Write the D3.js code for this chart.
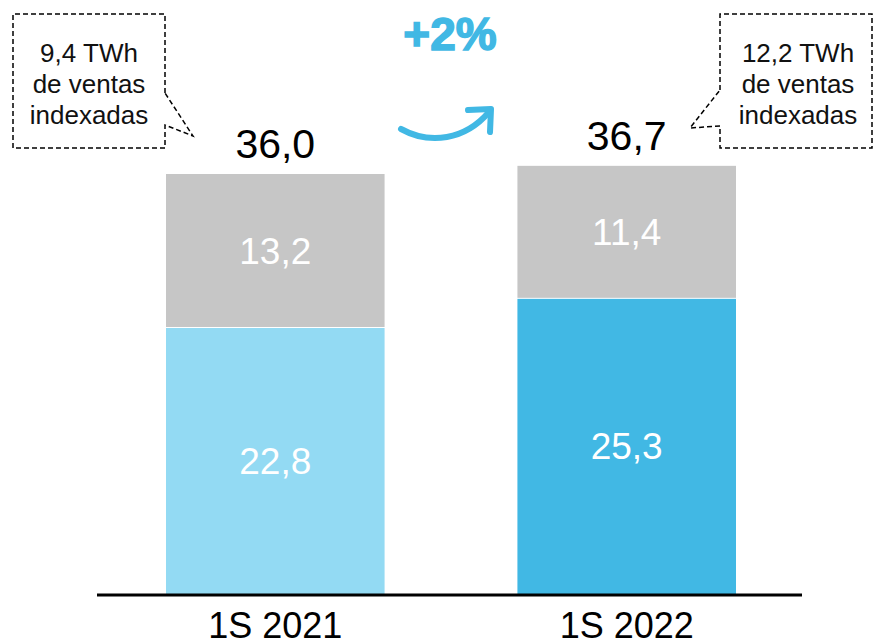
<!DOCTYPE html>
<html><head><meta charset="utf-8">
<script src="https://cdn.jsdelivr.net/npm/d3@7"></script>
<style>
html,body{margin:0;padding:0;background:#fff;}
svg{display:block;font-family:"Liberation Sans",Arial,sans-serif;}
</style></head>
<body><svg id="c" width="876" height="642"></svg>
<script>
const categories = ["1S 2021", "1S 2022"];
const baseValues = [22.8, 25.3];
const otherValues = [13.2, 11.4];
const totals = [36.0, 36.7];
const baseColors = ["#93DAF3", "#41B8E4"];
const otherColor = "#C6C6C6";
const callouts = [["9,4 TWh", "de ventas", "indexadas"], ["12,2 TWh", "de ventas", "indexadas"]];
const growthLabel = "+2%";

const es = d3.formatLocale({decimal: ",", thousands: ".", grouping: [3], currency: ["", "€"]});
const fmt = es.format(".1f");

const svg = d3.select("#c");
const x = d3.scaleBand().domain(categories).range([166, 736]).paddingInner(0.378).paddingOuter(0);
const y = d3.scaleLinear().domain([0, 36.0]).range([594, 174]);

const data = categories.map((c, i) => ({c, base: baseValues[i], other: otherValues[i], total: totals[i], i}));

// bars
const g = svg.append("g");
g.selectAll("rect.base").data(data).join("rect")
  .attr("x", d => x(d.c)).attr("width", x.bandwidth())
  .attr("y", d => y(d.base)).attr("height", d => y(0) - y(d.base))
  .attr("fill", d => baseColors[d.i]);
g.selectAll("rect.other").data(data).join("rect")
  .attr("class", "other")
  .attr("x", d => x(d.c)).attr("width", x.bandwidth())
  .attr("y", d => y(d.base + d.other)).attr("height", d => y(d.base) - y(d.base + d.other) - 1)
  .attr("fill", otherColor);

// segment labels
g.selectAll("text.bl").data(data).join("text")
  .attr("x", d => x(d.c) + x.bandwidth() / 2)
  .attr("y", d => (y(0) + y(d.base)) / 2 + 13)
  .attr("text-anchor", "middle").attr("fill", "#fff").attr("font-size", 37)
  .text(d => fmt(d.base));
g.selectAll("text.ol").data(data).join("text")
  .attr("x", d => x(d.c) + x.bandwidth() / 2)
  .attr("y", d => (y(d.base) + y(d.base + d.other)) / 2 + 13)
  .attr("text-anchor", "middle").attr("fill", "#fff").attr("font-size", 37)
  .text(d => fmt(d.other));
g.selectAll("text.tl").data(data).join("text")
  .attr("x", d => x(d.c) + x.bandwidth() / 2)
  .attr("y", d => y(d.total) - 16)
  .attr("text-anchor", "middle").attr("fill", "#000").attr("font-size", 41)
  .text(d => fmt(d.total));

// axis
const axis = svg.append("g").attr("transform", "translate(0,595)")
  .call(d3.axisBottom(x).tickSize(0).tickPadding(17));
axis.select(".domain").remove();
axis.append("line").attr("x1", 97).attr("x2", 802).attr("y1", 0).attr("y2", 0)
  .attr("stroke", "#000").attr("stroke-width", 3);
axis.selectAll(".tick text").attr("font-size", 36).attr("fill", "#000")
  .attr("font-family", "Liberation Sans, Arial, sans-serif").attr("dy", "0.71em");

// callouts
const dash = "5,3";
svg.append("path")
  .attr("d", "M165,93 L165,14 L13,14 L13,148 L165,148 L165,125 L193,136 Z")
  .attr("fill", "#fff").attr("stroke", "#000").attr("stroke-width", 1.5).attr("stroke-dasharray", dash);
svg.append("path")
  .attr("d", "M720,90 L720,14 L872,14 L872,148 L720,148 L720,126 L690,128 Z")
  .attr("fill", "#fff").attr("stroke", "#000").attr("stroke-width", 1.5).attr("stroke-dasharray", dash);
const cx = [89, 798];
callouts.forEach((lines, i) => {
  lines.forEach((t, j) => {
    svg.append("text").attr("x", cx[i]).attr("y", 62 + j * 31)
      .attr("text-anchor", "middle").attr("font-size", 26).attr("fill", "#111").text(t);
  });
});

// growth
svg.append("text").attr("x", 450).attr("y", 50).attr("text-anchor", "middle")
  .attr("font-size", 46).attr("font-weight", "bold").attr("fill", "#41B8E4")
  .attr("stroke", "#41B8E4").attr("stroke-width", 1.5).text(growthLabel);
svg.append("path").attr("d", "M401,129 C430,145 465,140 489,112")
  .attr("fill", "none").attr("stroke", "#41B8E4").attr("stroke-width", 6).attr("stroke-linecap", "round");
svg.append("path").attr("d", "M468,110 L491,109 L490,132")
  .attr("fill", "none").attr("stroke", "#41B8E4").attr("stroke-width", 6)
  .attr("stroke-linecap", "round").attr("stroke-linejoin", "round");
</script></body></html>
